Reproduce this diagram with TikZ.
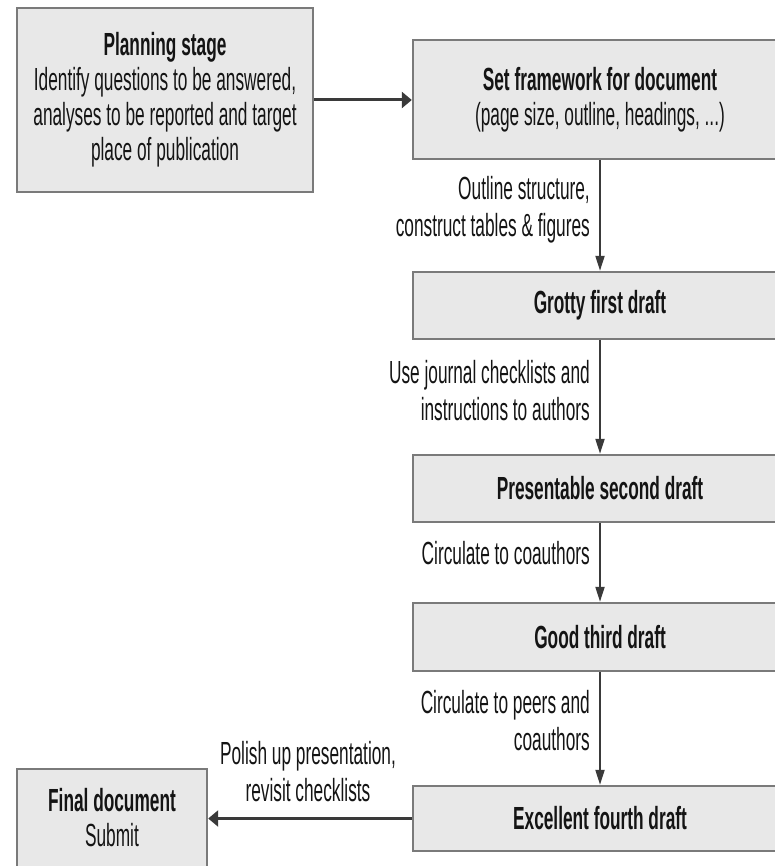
\documentclass[tikz,border=0pt]{standalone}
\usepackage{fontspec}
\setmainfont[FakeStretch=0.54]{Liberation Sans}
\usetikzlibrary{arrows.meta}
\definecolor{boxfill}{HTML}{E8E8E8}
\definecolor{boxline}{HTML}{7A7A7A}
\definecolor{arrline}{HTML}{3A3A3A}
\definecolor{txt}{HTML}{141414}
\tikzset{
  stagebox/.style={draw=boxline, line width=2.4pt, fill=boxfill, align=center,
    inner sep=0pt, text=txt, font=\fontsize{32}{35}\selectfont},
  lbl/.style={inner sep=0pt, text=txt, font=\fontsize{32}{37}\selectfont},
  varr/.style={draw=arrline, line width=2pt, -{Triangle[length=15pt,width=9pt]}},
  harr/.style={draw=arrline, line width=3pt, -{Triangle[length=10pt,width=16pt]}},
}
\begin{document}
\begin{tikzpicture}[x=1pt,y=-1pt]
\useasboundingbox (0,0) rectangle (775,866);
\clip (0,0) rectangle (775,866);
\node[stagebox, minimum width=296pt, minimum height=184pt] (plan) at (165,100)
  {\textbf{Planning stage}\\Identify questions to be answered,\\analyses to be reported and target\\place of publication};
\node[stagebox, minimum width=374pt, minimum height=119pt] (frame) at (600,99.5)
  {\textbf{Set framework for document}\\(page size, outline, headings, ...)};
\node[stagebox, minimum width=374pt, minimum height=67pt] (grotty) at (600,305.5)
  {\textbf{Grotty first draft}};
\node[stagebox, minimum width=374pt, minimum height=67pt] (present) at (600,488.5)
  {\textbf{Presentable second draft}};
\node[stagebox, minimum width=374pt, minimum height=68pt] (good) at (600,637)
  {\textbf{Good third draft}};
\node[stagebox, minimum width=374pt, minimum height=65pt] (excel) at (600,818.5)
  {\textbf{Excellent fourth draft}};
\node[stagebox, minimum width=190pt, minimum height=98pt] (final) at (112,818)
  {\textbf{Final document}\\Submit};

\draw[harr] (plan.east) -- (plan.east -| frame.west);
\draw[varr] (frame.south) -- (grotty.north);
\draw[varr] (grotty.south) -- (present.north);
\draw[varr] (present.south) -- (good.north);
\draw[varr] (good.south) -- (excel.north);
\draw[harr] (excel.west) -- (excel.west -| final.east);

\node[lbl, anchor=east, align=right] (l1) at (590,210) {Outline structure,\\construct tables \& figures};
\node[lbl, anchor=east, align=right] (l2) at (590,391) {Use journal checklists and\\instructions to authors};
\node[lbl, anchor=east, align=right] (l3) at (590,553) {Circulate to coauthors};
\node[lbl, anchor=east, align=right] (l4) at (590,721) {Circulate to peers and\\coauthors};
\node[lbl, align=center] (l5) at (308,772) {Polish up presentation,\\revisit checklists};
\end{tikzpicture}
\end{document}
